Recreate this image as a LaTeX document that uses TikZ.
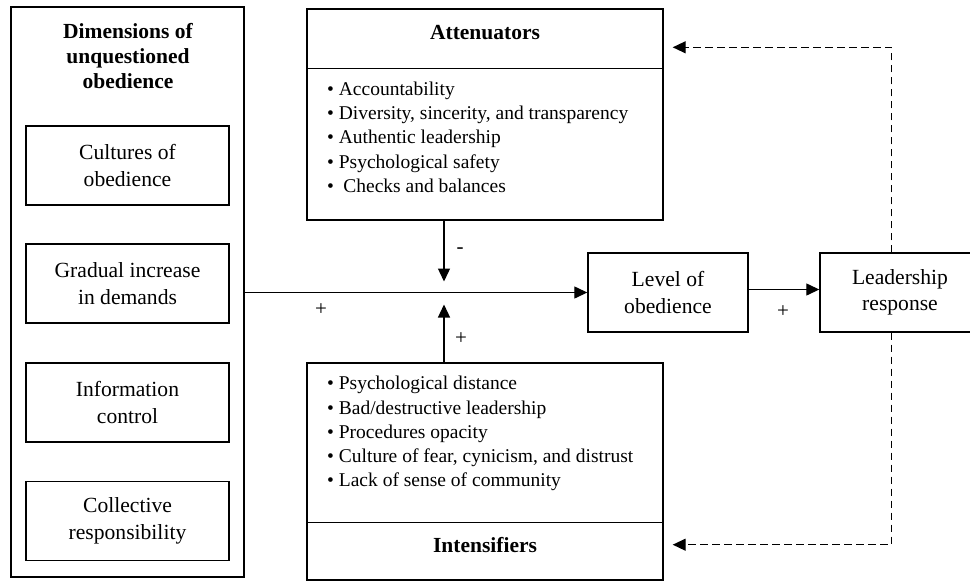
\documentclass[tikz,border=0pt]{standalone}
\usepackage{fontspec}
\setmainfont{Liberation Serif}
\usetikzlibrary{arrows.meta}
\begin{document}
\begin{tikzpicture}[x=1pt,y=-1pt,
  box/.style={draw, line width=1.4pt, inner sep=0pt, align=center,
    font=\fontsize{21.6}{26.5}\selectfont},
  frame/.style={draw, line width=1.4pt, inner sep=0pt},
  head/.style={inner sep=0pt, align=center, font=\fontsize{21.5}{25}\selectfont\bfseries},
  blist/.style={inner sep=0pt, align=left, anchor=north west,
    font=\fontsize{19.5}{24.3}\selectfont},
  sign/.style={inner sep=0pt, font=\fontsize{21}{24}\selectfont},
  arr/.style={line width=1.3pt, -{Triangle[length=13pt,width=12pt]}},
  dasharr/.style={arr, dash pattern=on 7.5pt off 4.5pt}]
\useasboundingbox (0,0) rectangle (970,582);
\clip (0,0) rectangle (970,582);

% left column
\node[frame, minimum width=233pt, minimum height=570pt] (dim) at (127.5,292) {};
\node[head, anchor=north] (dimhead) at (128,23.5) {Dimensions of\\unquestioned\\obedience};
\node[box, minimum width=203pt, minimum height=79pt] (d1) at (127.5,165.5) {Cultures of\\obedience};
\node[box, minimum width=203pt, minimum height=79pt] (d2) at (127.5,283.5) {Gradual increase\\in demands};
\node[box, minimum width=203pt, minimum height=79pt] (d3) at (127.5,402.5) {Information\\control};
\node[box, minimum width=203pt, minimum height=79pt] (d4) at (127.5,521) {Collective\\responsibility};

% attenuators
\node[frame, minimum width=356pt, minimum height=211pt] (att) at (485,114.5) {};
\draw[line width=1.4pt] ([yshift=-60pt]att.north west) -- ([yshift=-60pt]att.north east);
\node[head] (atthead) at (485,33) {Attenuators};
\node[blist] (attlist) at (327,81.5) {\textbullet\ Accountability\\
\textbullet\ Diversity, sincerity, and transparency\\
\textbullet\ Authentic leadership\\
\textbullet\ Psychological safety\\
\textbullet\ \hspace{4.5pt}Checks and balances};

% intensifiers
\node[frame, minimum width=356pt, minimum height=217pt] (int) at (485,471.5) {};
\draw[line width=1.4pt] ([yshift=58pt]int.south west) -- ([yshift=58pt]int.south east);
\node[head] (inthead) at (485,545) {Intensifiers};
\node[blist] (intlist) at (327,376) {\textbullet\ Psychological distance\\
\textbullet\ Bad/destructive leadership\\
\textbullet\ Procedures opacity\\
\textbullet\ Culture of fear, cynicism, and distrust\\
\textbullet\ Lack of sense of community};

% outcome boxes
\node[box, minimum width=160pt, minimum height=79pt] (lvl) at (668,292.5) {Level of\\obedience};
\node[box, minimum width=160pt, minimum height=79pt] (lead) at (900,292.5) {Leadership\\response};

% connectors
\coordinate (j) at (444,292.5);
\draw[arr] (dim.east |- lvl.west) -- (lvl.west);
\draw[arr] (att.south -| j) -- ([yshift=11pt]j);
\draw[arr] (int.north -| j) -- ([yshift=-12pt]j);
\draw[arr] ([yshift=3pt]lvl.east) -- ([yshift=3pt]lvl.east -| lead.west);
\coordinate (dx) at (891.5,0);
\draw[dasharr] (lead.north -| dx) |- ([xshift=9pt,yshift=-39pt]att.north east);
\draw[dasharr] (lead.south -| dx) |- ([xshift=9pt,yshift=36pt]int.south east);

% signs
\node[sign] (p1) at (321,310) {+};
\node[sign] (m1) at (460,251) {-};
\node[sign] (p2) at (461,339) {+};
\node[sign] (p3) at (783,312) {+};
\end{tikzpicture}
\end{document}
